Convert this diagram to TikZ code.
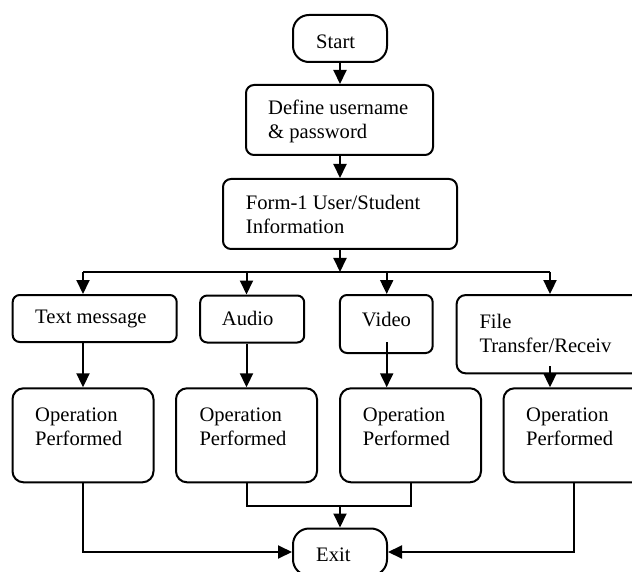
\documentclass[tikz,border=0pt]{standalone}
\usepackage{fontspec}
\setmainfont{Liberation Serif}
\usetikzlibrary{arrows.meta}
\tikzset{
  box/.style={draw, line width=2pt, inner sep=0pt, rectangle},
  term/.style={box, rounded corners=16pt, minimum width=94pt, minimum height=47pt},
  rbox/.style={box, rounded corners=7pt},
  opbox/.style={box, rounded corners=11pt, minimum width=141pt, minimum height=94pt},
  lbl/.style={anchor=west, inner sep=0pt, align=left, font=\fontsize{20.6}{23.3}\selectfont},
  conn/.style={line width=2pt},
  arr/.style={conn, -{Triangle[length=14pt,width=13pt]}}
}
\begin{document}
\begin{tikzpicture}[x=1pt,y=-1pt]
\useasboundingbox (0,0) rectangle (632,572);
\clip (0,0) rectangle (632,572);
% shapes
\node[term] (start) at (340,38.5) {};
\node[rbox, rounded corners=8pt, minimum width=187pt, minimum height=70pt] (def) at (339.5,120) {};
\node[rbox, rounded corners=8pt, minimum width=234pt, minimum height=70pt] (form) at (340,214) {};
\node[rbox, minimum width=164pt, minimum height=47pt] (txt) at (94.7,318.5) {};
\node[rbox, minimum width=104pt, minimum height=47pt] (aud) at (252.2,319) {};
\node[rbox, minimum width=92.7pt, minimum height=58pt] (vid) at (386.3,324) {};
\node[rbox, rounded corners=9pt, minimum width=186.7pt, minimum height=78.3pt] (file) at (550,334.2) {};
\node[opbox] (op1) at (83,435.3) {};
\node[opbox] (op2) at (246.5,435.3) {};
\node[opbox] (op3) at (410.5,435.3) {};
\node[opbox] (op4) at (574,435.3) {};
\node[term] (exit) at (340,552) {};
% texts
\node[lbl] (tstart) at (316,42) {Start};
\node[lbl] (tdef) at (268,121.5) {Define username\\\& password};
\node[lbl] (tform) at (245.7,214.5) {Form-1 User/Student\\Information};
\node[lbl] (ttxt) at (35,319) {Text message};
\node[lbl] (taud) at (221.7,318) {Audio};
\node[lbl] (tvid) at (361.7,320) {Video};
\node[lbl] (tfile) at (479.3,333.4) {File\\Transfer/Receiv};
\node[lbl] (top1) at (35,426.7) {Operation\\Performed};
\node[lbl] (top2) at (199.3,426.7) {Operation\\Performed};
\node[lbl] (top3) at (362.7,426.7) {Operation\\Performed};
\node[lbl] (top4) at (526,426.7) {Operation\\Performed};
\node[lbl] (texit) at (316,555) {Exit};
% connectors
\coordinate (bus) at (340,272);
\coordinate (b1) at (83,272);
\coordinate (b2) at (246.5,272);
\coordinate (b3) at (386.7,272);
\coordinate (b4) at (550,272);
\coordinate (m) at (340,506);
\draw[arr] (start.south) -- (start.south |- def.north);
\draw[arr] (start.south |- def.south) -- (start.south |- form.north);
\draw[arr] (start.south |- form.south) -- (bus);
\draw[conn] (b1) -- (b4);
\draw[arr] (b1) -- (b1 |- txt.north);
\draw[arr] (b2) -- (b2 |- aud.north);
\draw[arr] (b3) -- (b3 |- vid.north);
\draw[arr] (b4) -- (b4 |- file.north);
\draw[arr] (b1 |- txt.south) -- (op1.north);
\draw[arr] (b2 |- aud.south) -- (op2.north);
\draw[arr] ([yshift=11.6pt]b3 |- vid.south) -- (b3 |- op3.north);
\draw[arr] ([yshift=8.3pt]file.south) -- (b4 |- op4.north);
\draw[arr] (op1.south) |- (exit.west);
\draw[arr] (op4.south) |- (exit.east);
\draw[conn] (op2.south) |- (m) -| (op3.south);
\draw[arr] (m) -- (exit.north);
\end{tikzpicture}
\end{document}
